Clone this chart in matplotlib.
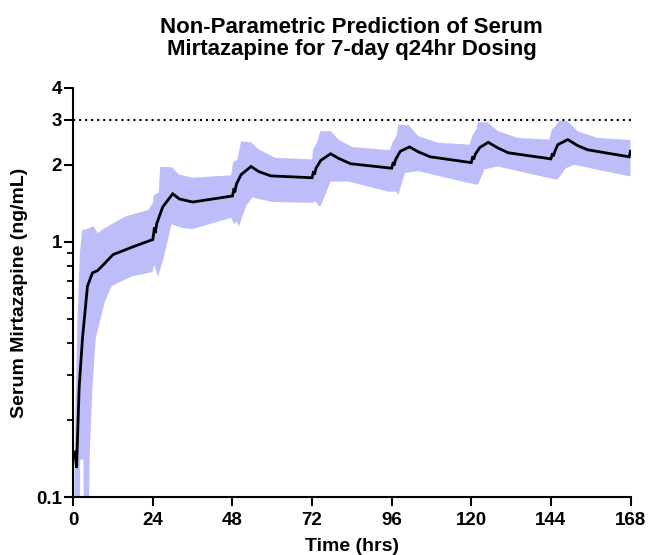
import numpy as np
import matplotlib
matplotlib.use("Agg")
import matplotlib.pyplot as plt
from matplotlib.ticker import FixedLocator, NullFormatter, FixedFormatter

plt.rcParams['font.family'] = ['Liberation Sans', 'DejaVu Sans']
plt.rcParams['font.weight'] = 'bold'

# median prediction (hrs, ng/mL)
med_t = [0.5, 1.0, 1.8, 2.8, 4.3, 5.8, 7.3, 9, 12, 18.5,
         24, 24.5, 24.7, 25.2, 27, 30, 32, 36,
         48, 48.5, 48.7, 49.2, 50.6, 53.6, 56, 59.6,
         72, 72.5, 72.7, 73.2, 74.6, 77.6, 80, 83.6,
         96, 96.5, 96.7, 97.2, 98.6, 101.4, 104, 107.6,
         120, 120.5, 120.7, 121.2, 122.6, 125.1, 128, 131.1,
         144, 144.5, 144.7, 145.2, 146.1, 149.1, 152, 155.1,
         167.6, 168]
med_v = [0.15, 0.13, 0.27, 0.42, 0.67, 0.755, 0.77, 0.81, 0.89, 0.96,
         1.02, 1.14, 1.08, 1.18, 1.37, 1.54, 1.47, 1.43,
         1.51, 1.62, 1.56, 1.68, 1.83, 1.97, 1.88, 1.81,
         1.78, 1.89, 1.83, 1.94, 2.08, 2.21, 2.12, 2.02,
         1.94, 2.05, 1.99, 2.10, 2.26, 2.35, 2.25, 2.15,
         2.04, 2.16, 2.10, 2.20, 2.34, 2.45, 2.33, 2.23,
         2.11, 2.22, 2.16, 2.26, 2.40, 2.51, 2.38, 2.29,
         2.15, 2.26]

# upper edge of prediction band
up_t = [0.3, 0.6, 1.3, 2.0, 2.7, 4, 6.1, 7.4, 9, 12, 16, 22.6,
        24, 24.3, 25.8, 26.2, 29.6, 32, 36, 47.6,
        48.2, 49.5, 50.6, 53.6, 56, 61, 72,
        72.3, 73.5, 74.5, 77.6, 80, 84, 95.5,
        96.3, 97.5, 98, 101.3, 104, 110, 119.5,
        120.3, 121.5, 122, 125, 128, 134, 143.5,
        144.3, 145.5, 146.5, 149, 152, 158, 168]
up_v = [0.1, 0.2, 0.49, 0.9, 1.11, 1.12, 1.15, 1.08, 1.12, 1.18, 1.26, 1.33,
        1.42, 1.52, 1.56, 1.96, 1.96, 1.83, 1.78, 1.82,
        2.05, 2.10, 2.47, 2.45, 2.29, 2.13, 2.10,
        2.30, 2.44, 2.71, 2.71, 2.51, 2.35, 2.28,
        2.45, 2.60, 2.88, 2.85, 2.59, 2.44, 2.40,
        2.60, 2.75, 2.94, 2.93, 2.71, 2.55, 2.51,
        2.75, 2.85, 2.98, 2.97, 2.71, 2.55, 2.50]

# lower edge of prediction band
lo_t = [0, 2.0, 2.1, 3.1, 3.3, 4.5, 5, 5.8, 6.8, 9.5, 11.6, 17.5,
        23.9, 24.4, 25.6, 27.1, 28.6, 29.6, 33, 36, 40,
        47.6, 48.5, 49.2, 50, 52, 54, 60, 72,
        73, 74, 74.6, 77.6, 83, 95, 97.5, 98, 100, 104,
        119, 122, 124, 128, 143, 146, 148.5, 151, 168]
lo_v = [0.05, 0.05, 0.14, 0.14, 0.05, 0.06, 0.15, 0.27, 0.42, 0.58, 0.67, 0.73,
        0.76, 0.81, 0.73, 0.85, 1.02, 1.17, 1.13, 1.12, 1.16,
        1.24, 1.17, 1.20, 1.15, 1.37, 1.49, 1.43, 1.42,
        1.44, 1.38, 1.38, 1.72, 1.72, 1.57, 1.57, 1.52, 1.86, 1.89,
        1.70, 1.67, 1.92, 1.97, 1.78, 1.75, 1.94, 2.00, 1.80]

threshold = 3
x_ticks = [0, 24, 48, 72, 96, 120, 144, 168]
y_ticks = [0.1, 1, 2, 3, 4]
y_minor = [0.2, 0.3, 0.4, 0.5, 0.6, 0.7, 0.8, 0.9]

fig = plt.figure(figsize=(6.48, 5.55), dpi=100)
ax = fig.add_axes([0.113, 0.1045, 0.86, 0.737])

band_x = np.r_[up_t, lo_t[::-1]]
band_y = np.r_[up_v, lo_v[::-1]]
ax.fill(band_x, band_y, color='#bdbdfa', lw=0, zorder=1)
ax.plot(med_t, med_v, color='black', lw=2, zorder=3, solid_joinstyle='miter')
ax.plot([0, 168], [threshold, threshold], color='black', lw=1.5,
        linestyle=(0, (1, 1.9)), zorder=2)

ax.set_yscale('log')
ax.set_ylim(0.1, 4)
ax.set_xlim(0, 168)
ax.yaxis.set_major_locator(FixedLocator(y_ticks))
ax.yaxis.set_major_formatter(FixedFormatter([str(v) for v in y_ticks]))
ax.yaxis.set_minor_locator(FixedLocator(y_minor))
ax.yaxis.set_minor_formatter(NullFormatter())
ax.set_xticks(x_ticks)

for s in ['top', 'right']:
    ax.spines[s].set_visible(False)
for s in ['left', 'bottom']:
    ax.spines[s].set_linewidth(1.5)
ax.tick_params(axis='both', which='major', length=6.5, width=1.5,
               labelsize=13.5)
ax.tick_params(axis='x', which='major', pad=4)
ax.tick_params(axis='y', which='major', pad=1.5)
ax.tick_params(axis='y', which='minor', length=4, width=1.3)

ax.set_xlabel('Time (hrs)', fontsize=14, fontweight='bold', labelpad=7)
ax.set_ylabel('Serum Mirtazapine (ng/mL)', fontsize=14, fontweight='bold',
              labelpad=6)
ax.set_title('Non-Parametric Prediction of Serum\nMirtazapine for 7-day q24hr Dosing',
             fontsize=16, fontweight='bold', linespacing=1.05, pad=24)

fig.savefig('out.png', dpi=100)
